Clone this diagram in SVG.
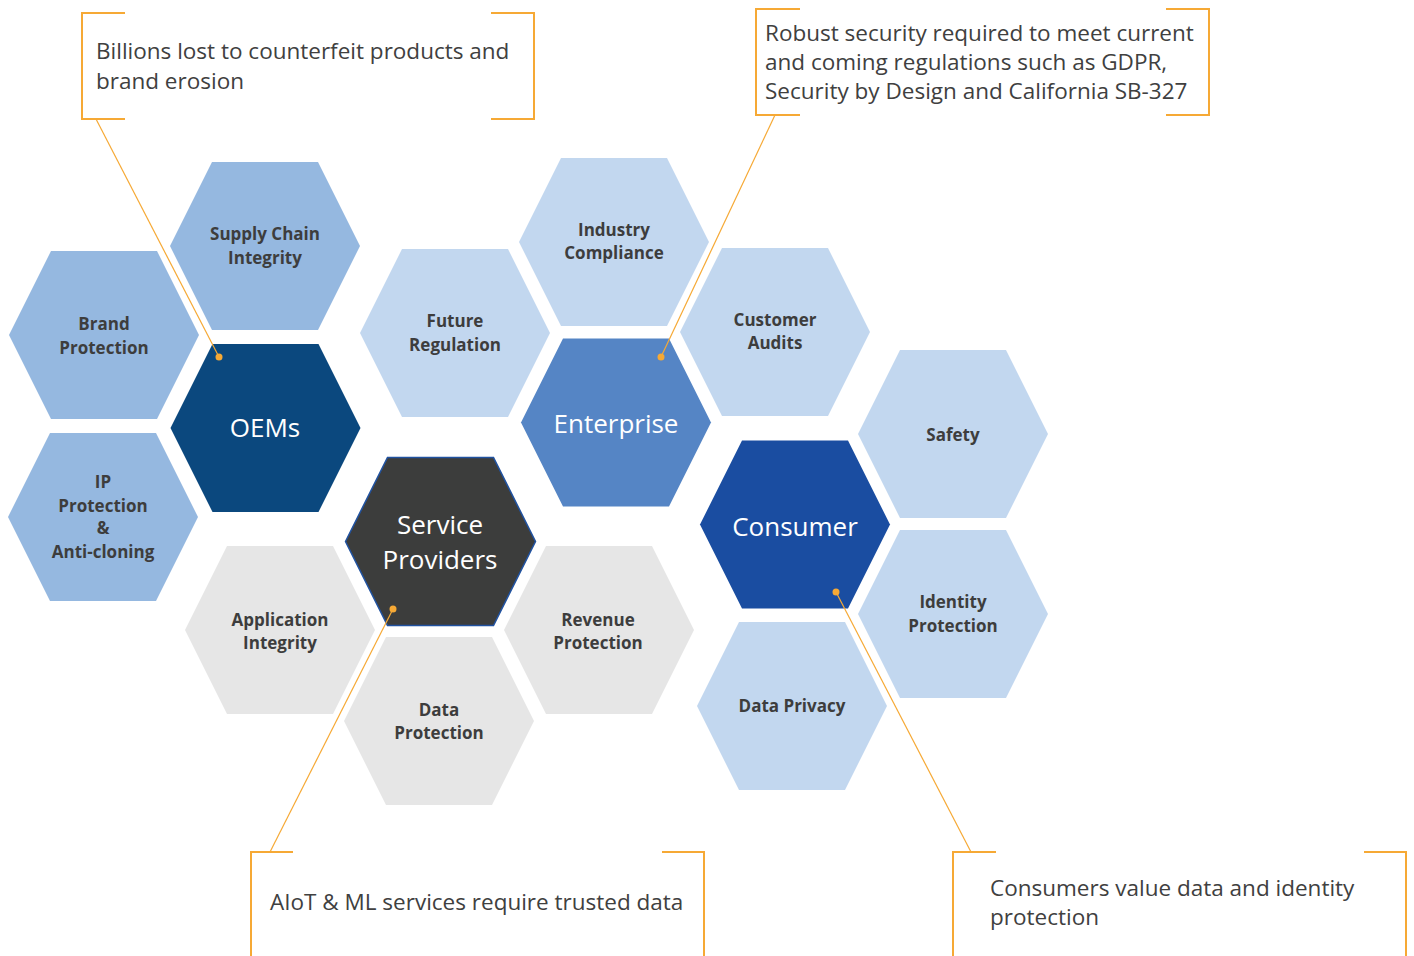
<svg xmlns="http://www.w3.org/2000/svg" xmlns:xlink="http://www.w3.org/1999/xlink" width="1414" height="956" viewBox="0 0 1414 956">
<defs>
<polygon id="hex" points="-95,0 -53,-84 53,-84 95,0 53,84 -53,84"/>
<style>
.mid{fill:#95b8e0}
.lt{fill:#c2d7ef}
.gr{fill:#e6e6e6}
.oem{fill:#0b487e}
.ent{fill:#5585c5}
.con{fill:#1a4da1}
.sp{fill:#3c3d3c;stroke:#2052a0;stroke-width:1.5}
.lbl{font-family:"Open Sans","Liberation Sans",sans-serif;font-weight:bold;font-size:17px;fill:#3d3d3d;text-anchor:middle}
.big{font-family:"Open Sans","Liberation Sans",sans-serif;font-size:26px;fill:#ffffff;text-anchor:middle}
.co{font-family:"Open Sans","Liberation Sans",sans-serif;font-size:22.5px;fill:#404040}
.br{fill:none;stroke:#f6a935;stroke-width:2}
.ln{fill:none;stroke:#f6a935;stroke-width:1.2}
.dot{fill:#f6a935}
</style>
</defs>
<rect width="1414" height="956" fill="#ffffff"/>

<g id="supply-chain"><use xlink:href="#hex" x="265" y="246" class="mid"/><text class="lbl" x="265" y="240">Supply Chain</text><text class="lbl" x="265" y="264">Integrity</text></g>
<g id="brand-protection"><use xlink:href="#hex" x="104" y="335" class="mid"/><text class="lbl" x="104" y="330">Brand</text><text class="lbl" x="104" y="354">Protection</text></g>
<g id="ip-protection"><use xlink:href="#hex" x="103" y="517" class="mid"/><text class="lbl" x="103" y="488">IP</text><text class="lbl" x="103" y="512">Protection</text><text class="lbl" x="103" y="534">&amp;</text><text class="lbl" x="103" y="558">Anti-cloning</text></g>
<g id="oems"><use xlink:href="#hex" x="265.5" y="428" class="oem"/><text class="big" x="265" y="437">OEMs</text></g>
<g id="future-regulation"><use xlink:href="#hex" x="455" y="333" class="lt"/><text class="lbl" x="455" y="327">Future</text><text class="lbl" x="455" y="351">Regulation</text></g>
<g id="industry-compliance"><use xlink:href="#hex" x="614" y="242" class="lt"/><text class="lbl" x="614" y="236">Industry</text><text class="lbl" x="614" y="259">Compliance</text></g>
<g id="enterprise"><use xlink:href="#hex" x="616" y="422.5" class="ent"/><text class="big" x="616" y="433">Enterprise</text></g>
<g id="customer-audits"><use xlink:href="#hex" x="775" y="332" class="lt"/><text class="lbl" x="775" y="326">Customer</text><text class="lbl" x="775" y="349">Audits</text></g>
<g id="service-providers"><use xlink:href="#hex" x="440.5" y="541.5" class="sp"/><text class="big" x="440" y="534">Service</text><text class="big" x="440" y="569">Providers</text></g>
<g id="application-integrity"><use xlink:href="#hex" x="280" y="630" class="gr"/><text class="lbl" x="280" y="626">Application</text><text class="lbl" x="280" y="649">Integrity</text></g>
<g id="data-protection"><use xlink:href="#hex" x="439" y="721" class="gr"/><text class="lbl" x="439" y="716">Data</text><text class="lbl" x="439" y="739">Protection</text></g>
<g id="revenue-protection"><use xlink:href="#hex" x="599" y="630" class="gr"/><text class="lbl" x="598" y="626">Revenue</text><text class="lbl" x="598" y="649">Protection</text></g>
<g id="consumer"><use xlink:href="#hex" x="795" y="524.5" class="con"/><text class="big" x="795" y="536">Consumer</text></g>
<g id="safety"><use xlink:href="#hex" x="953" y="434" class="lt"/><text class="lbl" x="953" y="441">Safety</text></g>
<g id="identity-protection"><use xlink:href="#hex" x="953" y="614" class="lt"/><text class="lbl" x="953" y="608">Identity</text><text class="lbl" x="953" y="632">Protection</text></g>
<g id="data-privacy"><use xlink:href="#hex" x="792" y="706" class="lt"/><text class="lbl" x="792" y="712">Data Privacy</text></g>

<g id="callout-oems">
<path class="br" d="M125,13 H82 V119 H125 M491,13 H534 V119 H491"/>
<text class="co" x="96" y="59">Billions lost to counterfeit products and</text>
<text class="co" x="96" y="89">brand erosion</text>
</g>
<g id="callout-enterprise">
<path class="br" d="M800,9 H756 V115 H800 M1166,9 H1209 V115 H1166"/>
<text class="co" x="765" y="41">Robust security required to meet current</text>
<text class="co" x="765" y="70">and coming regulations such as GDPR,</text>
<text class="co" x="765" y="99">Security by Design and California SB-327</text>
</g>
<g id="callout-service">
<path class="br" d="M293,852 H251 V956 M662,852 H704 V956"/>
<text class="co" x="270" y="910">AIoT &amp; ML services require trusted data</text>
</g>
<g id="callout-consumer">
<path class="br" d="M996,852 H953 V956 M1364,852 H1406 V956"/>
<text class="co" x="990" y="896">Consumers value data and identity</text>
<text class="co" x="990" y="925">protection</text>
</g>

<g id="connectors">
<line class="ln" x1="96" y1="119" x2="219" y2="357"/>
<circle class="dot" cx="219" cy="357" r="3.5"/>
<line class="ln" x1="775" y1="115" x2="661" y2="357"/>
<circle class="dot" cx="661" cy="357" r="3.5"/>
<line class="ln" x1="270" y1="852" x2="393" y2="609"/>
<circle class="dot" cx="393" cy="609" r="3.5"/>
<line class="ln" x1="971" y1="852" x2="836" y2="592"/>
<circle class="dot" cx="836" cy="592" r="3.5"/>
</g>
</svg>
